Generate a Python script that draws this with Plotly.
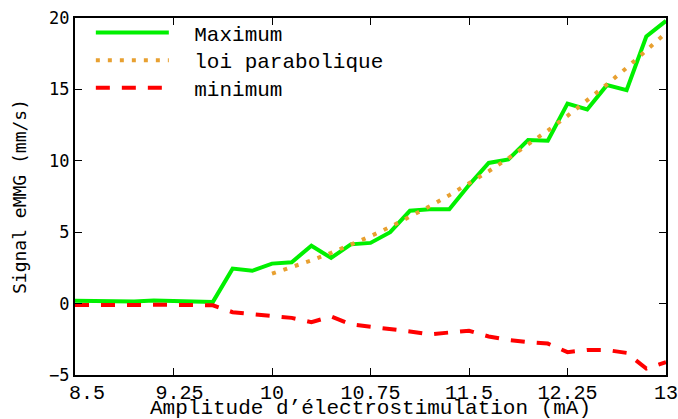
import plotly.graph_objects as go

amplitude = [8.5, 8.65, 8.8, 8.95, 9.1, 9.25, 9.4, 9.55, 9.7, 9.85, 10.0, 10.15, 10.3,
             10.45, 10.6, 10.75, 10.9, 11.05, 11.2, 11.35, 11.5, 11.65, 11.8, 11.95,
             12.1, 12.25, 12.4, 12.55, 12.7, 12.85, 13.0]
maximum = [0.2, 0.18, 0.15, 0.15, 0.22, 0.22, 0.15, 0.12, 2.45, 2.3, 2.8, 2.9, 4.05,
           3.2, 4.15, 4.25, 5.0, 6.5, 6.6, 6.6, 8.3, 9.85, 10.1, 11.45, 11.4, 14.0,
           13.6, 15.3, 14.95, 18.7, 19.8]
minimum = [-0.1, -0.12, -0.12, -0.1, -0.08, -0.08, -0.08, -0.12, -0.6, -0.72, -0.85,
           -1.0, -1.3, -0.9, -1.45, -1.6, -1.75, -1.95, -2.15, -2.0, -1.9, -2.3, -2.55,
           -2.7, -2.8, -3.4, -3.25, -3.25, -3.45, -4.55, -4.1]
amp_parab = [10.0, 10.15, 10.3, 10.45, 10.6, 10.75, 10.9, 11.05, 11.2, 11.35, 11.5,
             11.65, 11.8, 11.95, 12.1, 12.25, 12.4, 12.55, 12.7, 12.85, 13.0]
parabole = [2.1, 2.54, 3.02, 3.55, 4.11, 4.72, 5.37, 6.07, 6.81, 7.59, 8.41, 9.27,
            10.18, 11.13, 12.12, 13.15, 14.23, 15.35, 16.51, 17.71, 18.96]

x_ticks = [8.5, 9.25, 10, 10.75, 11.5, 12.25, 13]
x_ticklabels = ["8.5", "9.25", "10", "10.75", "11.5", "12.25", "13"]
y_ticks = [-5, 0, 5, 10, 15, 20]
series_names = ["Maximum", "loi parabolique", "minimum"]

serif_mono = "Liberation Mono, Courier New, monospace"
sans_mono = "DejaVu Sans Mono, monospace"
NB = "\u00a0"
GAP = "<span style='font-size:17px'>" + NB * 2 + "</span>"

# the first two x labels sit slightly right of their ticks in the reference
x_ticktext = [NB * 2 + x_ticklabels[0], NB + x_ticklabels[1]] + x_ticklabels[2:]

fig = go.Figure()
fig.add_trace(go.Scatter(x=amplitude, y=maximum, mode="lines",
                         name=GAP + series_names[0], legend="legend",
                         line=dict(color="#00f000", width=4)))
fig.add_trace(go.Scatter(x=amp_parab, y=parabole, mode="lines",
                         name=GAP + series_names[1], legend="legend2",
                         line=dict(color="#e8a030", width=4, dash="4px,8px")))
fig.add_trace(go.Scatter(x=amplitude, y=minimum, mode="lines",
                         name=GAP + series_names[2], legend="legend3",
                         line=dict(color="#ff0000", width=4, dash="14px,12px")))

leg_common = dict(x=0.0268, xanchor="left", yanchor="middle",
                  bgcolor="rgba(0,0,0,0)", borderwidth=0,
                  font=dict(family=serif_mono, size=21, color="black"),
                  itemwidth=73)

fig.update_layout(
    width=678, height=419,
    margin=dict(l=75, r=12, t=14, b=44),
    plot_bgcolor="white", paper_bgcolor="white",
    showlegend=True,
    legend=dict(y=0.9584, **leg_common),
    legend2=dict(y=0.8808, **leg_common),
    legend3=dict(y=0.8033, **leg_common),
    xaxis=dict(range=[8.5, 13], tickvals=x_ticks, ticktext=x_ticktext,
               ticks="inside", ticklen=7, tickwidth=1, tickcolor="black",
               showline=True, linecolor="black", linewidth=2, mirror="ticks",
               showgrid=False, zeroline=False, automargin=False,
               ticklabelstandoff=-2, ticklabeloverflow="allow",
               tickfont=dict(family=serif_mono, size=20, color="black")),
    yaxis=dict(range=[-5, 20], tickvals=y_ticks,
               ticks="inside", ticklen=7, tickwidth=1, tickcolor="black",
               showline=True, linecolor="black", linewidth=2, mirror="ticks",
               showgrid=False, zeroline=False, automargin=False,
               ticklabeloverflow="allow",
               tickfont=dict(family=sans_mono, size=17, color="black"),
               title=dict(text="Signal eMMG (mm/s)", standoff=18,
                          font=dict(family=sans_mono, size=18, color="black"))),
    annotations=[dict(text="Amplitude d’électrostimulation (mA)",
                      xref="paper", yref="paper", x=0.5, y=-0.0942,
                      xanchor="center", yanchor="middle", showarrow=False,
                      font=dict(family=serif_mono, size=21, color="black"))],
)

fig.write_html("out.html", config={"displayModeBar": False},
               post_script="document.body.style.margin='0';document.body.style.overflow='hidden';")
